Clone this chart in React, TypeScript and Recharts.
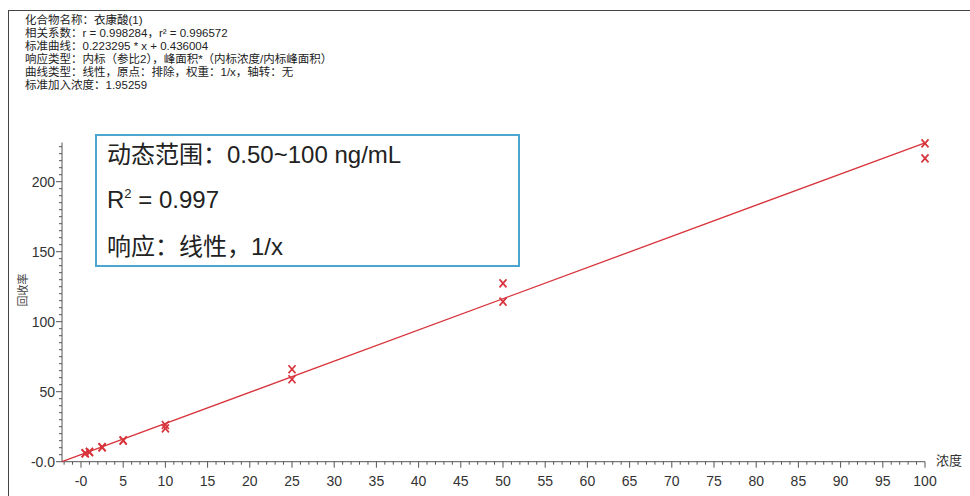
import React from "react";
import { ScatterChart, Scatter, XAxis, YAxis } from "recharts";

// measured points (concentration vs recovery)
const concentration = [0.5, 0.5, 1, 1, 2.5, 2.5, 5, 5, 10, 10, 25, 25, 50, 50, 100, 100];
const recovery = [5.9, 6.2, 6.8, 7.0, 10.2, 10.5, 15.0, 15.3, 26.2, 23.8, 66.0, 58.9, 127.4, 114.3, 227.4, 216.7];

// calibration line end points
const fitX = [-2.25, 100];
const fitY = [0, 227.8];

const xMajor = [0, 5, 10, 15, 20, 25, 30, 35, 40, 45, 50, 55, 60, 65, 70, 75, 80, 85, 90, 95, 100];
const yMajor = [0, 50, 100, 150, 200];

const headerLines = [
  "化合物名称：衣康酸(1)",
  "相关系数：r = 0.998284，r² = 0.996572",
  "标准曲线：0.223295 * x + 0.436004",
  "响应类型：内标（参比2），峰面积*（内标浓度/内标峰面积）",
  "曲线类型：线性，原点：排除，权重：1/x，轴转：无",
  "标准加入浓度：1.95259",
];

const boxLines = ["动态范围：0.50~100 ng/mL", "R2 = 0.997", "响应：线性，1/x"];

const points = concentration.map((c, i) => ({ x: c, y: recovery[i] }));
const fit = fitX.map((x, i) => ({ x, y: fitY[i] }));

const xTicks: number[] = [];
for (let v = -2; v <= 100; v++) xTicks.push(v);
const yTicks: number[] = [];
for (let v = 0; v <= 225; v += 5) yTicks.push(v);

const FONT = "'Liberation Sans', Arial, 'Noto Sans CJK SC', sans-serif";
const RED = "#d8343c";
const AXIS = "#555";

const XTick = (props: any) => {
  const { x, y, payload } = props;
  const v = payload.value;
  const major = xMajor.includes(v);
  return (
    <g>
      <line x1={x} x2={x} y1={y} y2={y + (major ? 6 : 3)} stroke={AXIS} strokeWidth={1} />
      {major && (
        <text x={x} y={y + 24} textAnchor="middle" fontSize={14} fill="#333" fontFamily={FONT}>
          {v === 0 ? "-0" : v}
        </text>
      )}
    </g>
  );
};

const YTick = (props: any) => {
  const { x, y, payload } = props;
  const v = payload.value;
  const major = yMajor.includes(v);
  return (
    <g>
      <line x1={x} x2={x - (major ? 6 : 3)} y1={y} y2={y} stroke={AXIS} strokeWidth={1} />
      {major && (
        <text x={x - 7} y={y + 5} textAnchor="end" fontSize={14} fill="#333" fontFamily={FONT}>
          {v === 0 ? "-0.0" : v}
        </text>
      )}
    </g>
  );
};

const Cross = (props: any) => {
  const { cx, cy } = props;
  return (
    <g stroke={RED} strokeWidth={1.7}>
      <line x1={cx - 3.5} y1={cy - 4} x2={cx + 3.5} y2={cy + 4} />
      <line x1={cx + 3.5} y1={cy - 4} x2={cx - 3.5} y2={cy + 4} />
    </g>
  );
};

export default function App() {
  return (
    <div style={{ position: "absolute", left: 0, top: 0, width: 970, height: 496, background: "#fff", overflow: "hidden" }}>
      <div style={{ position: "absolute", left: 8, top: 10, right: -2, bottom: -2, borderLeft: "1px solid #444", borderTop: "1px solid #444" }} />
      <div style={{ position: "absolute", left: 25, top: 14, fontFamily: FONT, fontSize: 11.5, lineHeight: "13px", color: "#222" }}>
        {headerLines.map((t) => (
          <div key={t}>{t}</div>
        ))}
      </div>
      <ScatterChart width={970} height={496} margin={{ top: 142.5, right: 45, bottom: 4.3, left: 2 }} style={{ position: "absolute", left: 0, top: 0 }}>
        <XAxis
          type="number"
          dataKey="x"
          domain={[-2.25, 100]}
          ticks={xTicks}
          interval={0}
          tickSize={0}
          tickMargin={0}
          tickLine={false}
          tick={<XTick />}
          axisLine={{ stroke: AXIS }}
          height={30}
        />
        <YAxis
          type="number"
          dataKey="y"
          domain={[0, 228]}
          ticks={yTicks}
          interval={0}
          tickSize={0}
          tickMargin={0}
          tickLine={false}
          tick={<YTick />}
          axisLine={{ stroke: AXIS }}
          width={60}
        />
        <Scatter data={fit} line={{ stroke: RED, strokeWidth: 1.3 }} shape={() => <g />} isAnimationActive={false} />
        <Scatter data={points} shape={<Cross />} isAnimationActive={false} />
      </ScatterChart>
      <div
        style={{
          position: "absolute",
          left: 22,
          top: 290,
          transform: "translate(-50%, -50%) rotate(-90deg)",
          fontFamily: FONT,
          fontSize: 11,
          color: "#444",
          whiteSpace: "nowrap",
        }}
      >
        回收率
      </div>
      <div style={{ position: "absolute", left: 936, top: 450, fontFamily: FONT, fontSize: 13, color: "#333" }}>浓度</div>
      <div
        style={{
          position: "absolute",
          left: 95,
          top: 134,
          width: 421,
          height: 129,
          border: "2px solid #4ba6cf",
          fontFamily: FONT,
          fontSize: 24,
          lineHeight: "28px",
          color: "#222",
          background: "#fff",
        }}
      >
        <div style={{ position: "absolute", left: 10, top: 5, whiteSpace: "nowrap" }}>{boxLines[0]}</div>
        <div style={{ position: "absolute", left: 10, top: 50, whiteSpace: "nowrap" }}>
          R<sup style={{ fontSize: 13, lineHeight: 0, verticalAlign: "10px" }}>2</sup> = 0.997
        </div>
        <div style={{ position: "absolute", left: 10, top: 97, whiteSpace: "nowrap" }}>{boxLines[2]}</div>
      </div>
    </div>
  );
}
